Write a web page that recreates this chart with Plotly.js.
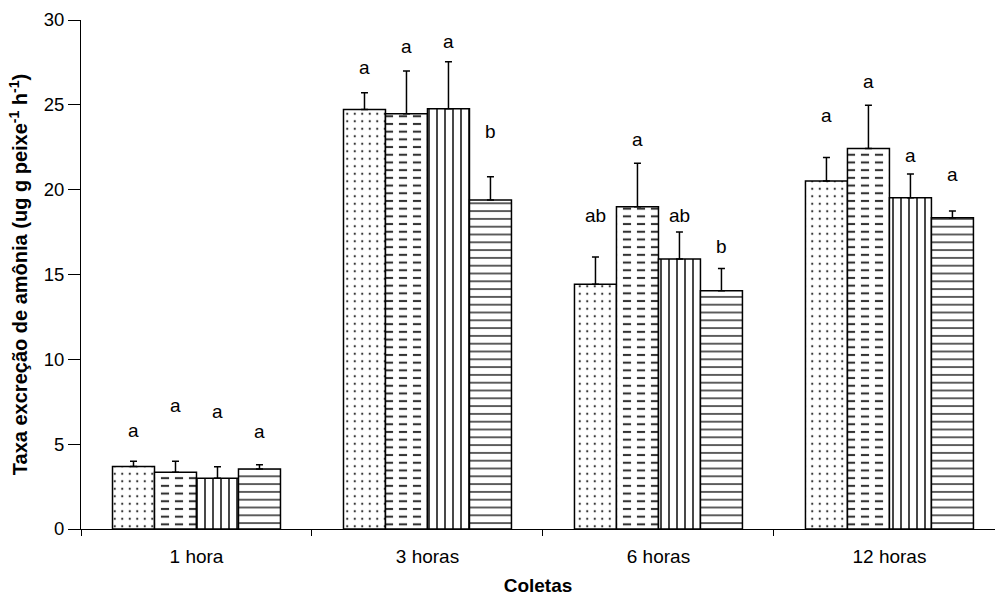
<!DOCTYPE html>
<html>
<head>
<meta charset="utf-8">
<script src="https://cdn.plot.ly/plotly-3.0.1.min.js"></script>
<style>html,body{margin:0;padding:0;background:#fff}#chart{width:995px;height:600px}</style>
</head>
<body>
<div id="chart"></div>
<script>
var categories = ['1 hora', '3 horas', '6 horas', '12 horas'];

var valuesS1 = [3.69, 24.73, 14.42, 20.51];
var errorsS1 = [0.30, 0.98, 1.61, 1.39];
var valuesS2 = [3.34, 24.47, 18.99, 22.43];
var errorsS2 = [0.66, 2.53, 2.56, 2.55];
var valuesS3 = [2.99, 24.77, 15.91, 19.52];
var errorsS3 = [0.68, 2.77, 1.59, 1.40];
var valuesS4 = [3.54, 19.39, 14.04, 18.34];
var errorsS4 = [0.25, 1.37, 1.32, 0.40];

var lettersS1 = ['a', 'a', 'ab', 'a'];
var lettersS2 = ['a', 'a', 'a', 'a'];
var lettersS3 = ['a', 'a', 'ab', 'a'];
var lettersS4 = ['a', 'b', 'b', 'a'];
var letterYS1 = [5.83, 27.22, 18.5, 24.4];
var letterYS2 = [7.27, 28.42, 22.96, 26.4];
var letterYS3 = [6.91, 28.72, 18.5, 22.04];
var letterYS4 = [5.72, 23.41, 16.63, 20.9];

var yTicks = [0, 5, 10, 15, 20, 25, 30];

var W = 0.1818;
var offsets = [-2 * W, -W, 0, W];
var zeros = categories.map(function () { return 0; });

function bar(vals, errs, off, pattern, color, lineW, showErr) {
  var t = {
    type: 'bar', x: categories, y: vals, width: W, offset: off,
    marker: { color: color, line: { color: '#000', width: lineW }, pattern: pattern },
    hoverinfo: 'skip', showlegend: false
  };
  if (showErr) {
    t.error_y = { type: 'data', symmetric: false, array: errs, arrayminus: zeros,
      color: '#000', thickness: 1.5, width: 3.5, visible: true };
  }
  return t;
}

var traces = [
  bar(valuesS1, errorsS1, offsets[0], { shape: '.', size: 7.5, solidity: 0.07, fgcolor: '#333', bgcolor: '#fff', fillmode: 'replace' }, '#fff', 1.5, true),
  bar(valuesS2, errorsS2, offsets[1], { shape: '-', size: 7.7, solidity: 0.27, fgcolor: '#333', bgcolor: '#fff', fillmode: 'replace' }, '#fff', 0, false),
  bar(valuesS2, errorsS2, offsets[1], { shape: '|', size: 14, solidity: 0.42, fgcolor: '#fff', bgcolor: 'rgba(0,0,0,0)', fillmode: 'replace' }, 'rgba(0,0,0,0)', 0, false),
  bar(valuesS2, errorsS2, offsets[1], { shape: '' }, 'rgba(0,0,0,0)', 1.5, true),
  bar(valuesS3, errorsS3, offsets[2], { shape: '|', size: 8, solidity: 0.18, fgcolor: '#000', bgcolor: '#fff', fillmode: 'replace' }, '#fff', 1.5, true),
  bar(valuesS4, errorsS4, offsets[3], { shape: '-', size: 7.8, solidity: 0.16, fgcolor: '#000', bgcolor: '#fff', fillmode: 'replace' }, '#fff', 1.5, true)
];

var annotations = [];
[[lettersS1, letterYS1], [lettersS2, letterYS2], [lettersS3, letterYS3], [lettersS4, letterYS4]].forEach(function (s, k) {
  s[0].forEach(function (txt, i) {
    annotations.push({ x: i + offsets[k] + W / 2, y: s[1][i], xref: 'x', yref: 'y', text: txt,
      showarrow: false, font: { family: 'Liberation Sans, Arial, sans-serif', size: 19, color: '#000' },
      xanchor: 'center', yanchor: 'middle' });
  });
});

var layout = {
  width: 995, height: 600,
  margin: { l: 81, r: 0, t: 20, b: 71 },
  paper_bgcolor: '#fff', plot_bgcolor: '#fff',
  barmode: 'overlay',
  font: { family: 'Liberation Sans, Arial, sans-serif', size: 18, color: '#000' },
  xaxis: {
    type: 'category', range: [-0.5, 3.457], tickson: 'boundaries',
    ticks: 'outside', ticklen: 6, tickwidth: 1, tickcolor: '#000',
    showline: true, linecolor: '#000', linewidth: 1, showgrid: false, zeroline: false,
    tickfont: { size: 19 }, ticklabelstandoff: 10,
    title: { text: '<b>Coletas</b>', font: { size: 19 }, standoff: 12 }
  },
  yaxis: {
    range: [0, 30], tickvals: yTicks, ticks: 'outside', ticklen: 12, tickwidth: 1, tickcolor: '#000',
    showline: true, linecolor: '#000', linewidth: 1, showgrid: false, zeroline: false,
    tickfont: { size: 18.5 },
    title: { text: '<b>Taxa excreção de amônia (ug g peixe<sup>-1</sup> h<sup>-1</sup>)</b>', font: { size: 20 }, standoff: 10 }
  },
  annotations: annotations
};

Plotly.newPlot('chart', traces, layout, { staticPlot: true });
</script>
</body>
</html>
